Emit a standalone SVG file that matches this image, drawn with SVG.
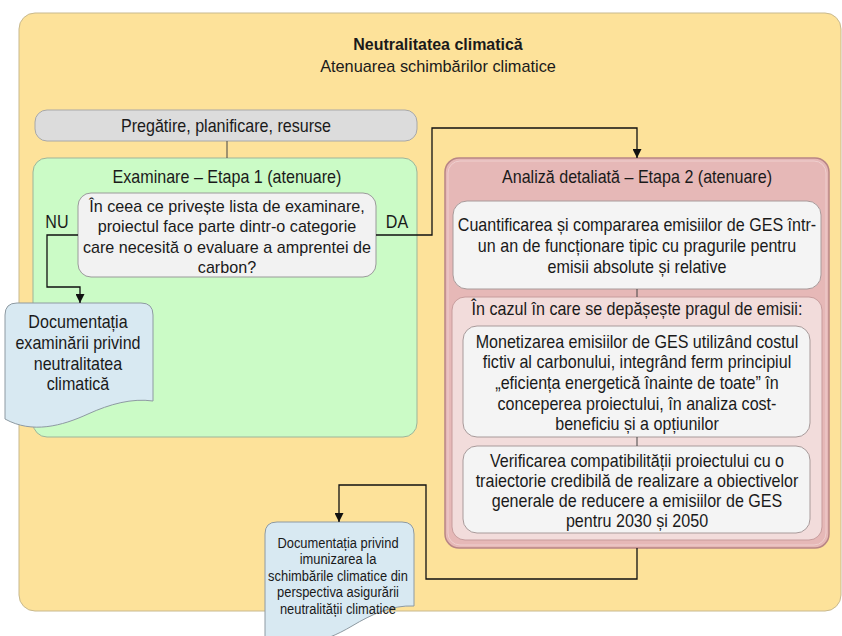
<svg xmlns="http://www.w3.org/2000/svg" width="842" height="636" viewBox="0 0 842 636">
<defs>
<style>
text{font-family:"Liberation Sans",Arial,sans-serif;fill:#1a1a1a;text-anchor:middle}
.tt{font-size:17px}
.tm{font-size:17.5px}
.tq{font-size:17px}
.td{font-size:14.5px}
.b{font-weight:bold}
.conn{fill:none;stroke:#111;stroke-width:1.3}
.sub{fill:none;stroke:#444;stroke-width:1}
.white{fill:#F4F4F4;stroke:#A89A9A;stroke-width:1}
.doc{fill:#D8E9F2;stroke:#8E9AA2;stroke-width:1}
</style>
<marker id="arr" viewBox="0 0 10 10" refX="10" refY="5" markerWidth="9" markerHeight="9" markerUnits="userSpaceOnUse" orient="auto">
<path d="M0,0 L10,5 L0,10 Z" fill="#111"/>
</marker>
</defs>

<g id="frame">
<rect x="19" y="13" width="822" height="598" rx="16" fill="#FDE29A" stroke="#C8B98E" stroke-width="1"/>
<text class="tt b" x="438" y="50" transform="translate(438,0) scale(0.94,1) translate(-438,0)">Neutralitatea climatică</text>
<text class="tt" x="438" y="72" transform="translate(438,0) scale(0.96,1) translate(-438,0)">Atenuarea schimbărilor climatice</text>
</g>

<g id="prep">
<rect x="35" y="110" width="382" height="31" rx="12" fill="#DCDCDC" stroke="#A8A8A8"/>
<text class="tm" x="226" y="132" transform="translate(226,0) scale(0.92,1) translate(-226,0)">Pregătire, planificare, resurse</text>
</g>

<g id="stage1">
<rect x="33" y="158" width="384" height="279" rx="14" fill="#CBFBC6" stroke="#9DB59A"/>
<text class="tm" x="227" y="183" transform="translate(227,0) scale(0.92,1) translate(-227,0)">Examinare – Etapa 1 (atenuare)</text>
</g>

<g id="question">
<rect x="78" y="193" width="298" height="84" rx="13" fill="#F2F2F2" stroke="#9A9A9A"/>
<g transform="translate(227,0) scale(0.95,1) translate(-227,0)">
<text class="tq" x="227" y="212">În ceea ce privește lista de examinare,</text>
<text class="tq" x="227" y="232">proiectul face parte dintr-o categorie</text>
<text class="tq" x="227" y="253">care necesită o evaluare a amprentei de</text>
<text class="tq" x="227" y="273">carbon?</text>
</g>
</g>

<g id="labels">
<text class="tm" x="57" y="228" transform="translate(57,0) scale(0.92,1) translate(-57,0)">NU</text>
<text class="tm" x="397" y="228" transform="translate(397,0) scale(0.92,1) translate(-397,0)">DA</text>
</g>

<g id="doc1">
<path class="doc" d="M17,303 H141 Q153,303 153,315 V401 C132,398 110,404 88,414 C62,426 32,434 5,419 V315 Q5,303 17,303 Z"/>
<g transform="translate(78,0) scale(0.92,1) translate(-78,0)">
<text class="tm" x="78" y="328">Documentația</text>
<text class="tm" x="78" y="349">examinării privind</text>
<text class="tm" x="78" y="370">neutralitatea</text>
<text class="tm" x="78" y="390">climatică</text>
</g>
</g>

<g id="stage2">
<rect x="445" y="158" width="384" height="390" rx="14" fill="#E6B8B7" stroke="#B88585" stroke-width="1.5"/>
<rect x="448" y="161" width="378" height="384" rx="12" fill="none" stroke="#EFCFCE" stroke-width="1"/>
<text class="tm" x="637" y="183" transform="translate(637,0) scale(0.92,1) translate(-637,0)">Analiză detaliată – Etapa 2 (atenuare)</text>
</g>

<g id="quantify">
<rect class="white" x="453" y="201" width="368" height="88" rx="14"/>
<g transform="translate(637,0) scale(0.92,1) translate(-637,0)">
<text class="tm" x="637" y="231">Cuantificarea și compararea emisiilor de GES într-</text>
<text class="tm" x="637" y="252">un an de funcționare tipic cu pragurile pentru</text>
<text class="tm" x="637" y="273">emisii absolute și relative</text>
</g>
</g>

<g id="exceed">
<rect x="452" y="297" width="370" height="243" rx="13" fill="#F2DCDB" stroke="#C79C9C"/>
<text class="tm" x="637" y="315" transform="translate(637,0) scale(0.92,1) translate(-637,0)">În cazul în care se depășește pragul de emisii:</text>
</g>

<g id="monetize">
<rect class="white" x="463" y="326" width="347" height="111" rx="14"/>
<g transform="translate(637,0) scale(0.92,1) translate(-637,0)">
<text class="tm" x="637" y="348">Monetizarea emisiilor de GES utilizând costul</text>
<text class="tm" x="637" y="368">fictiv al carbonului, integrând ferm principiul</text>
<text class="tm" x="637" y="389">„eficiența energetică înainte de toate” în</text>
<text class="tm" x="637" y="410">conceperea proiectului, în analiza cost-</text>
<text class="tm" x="637" y="430">beneficiu și a opțiunilor</text>
</g>
</g>

<g id="verify">
<rect class="white" x="463" y="446" width="347" height="87" rx="14"/>
<g transform="translate(637,0) scale(0.92,1) translate(-637,0)">
<text class="tm" x="637" y="467">Verificarea compatibilității proiectului  cu o</text>
<text class="tm" x="637" y="487">traiectorie credibilă de realizare a obiectivelor</text>
<text class="tm" x="637" y="507">generale de reducere a emisiilor de GES</text>
<text class="tm" x="637" y="527">pentru 2030 și 2050</text>
</g>
</g>

<g id="doc2">
<path class="doc" d="M277,522 H402 Q414,522 414,534 V606 C392,605 372,614 352,626 C322,644 292,650 265,640 V534 Q265,522 277,522 Z"/>
<g transform="translate(338,0) scale(0.89,1) translate(-338,0)">
<text class="td" x="338" y="548">Documentația privind</text>
<text class="td" x="338" y="564.5">imunizarea la</text>
<text class="td" x="338" y="581">schimbările climatice din</text>
<text class="td" x="338" y="597.5">perspectiva asigurării</text>
<text class="td" x="338" y="614">neutralității climatice</text>
</g>
</g>

<g id="connectors">
<path class="sub" d="M227,141 V158"/>
<path class="sub" d="M637,289 V297"/>
<path class="sub" d="M637,437 V446"/>
<path class="conn" d="M78,235 H47 V287 H80 V303" marker-end="url(#arr)"/>
<path class="conn" d="M376,235 H432 V128 H637 V158" marker-end="url(#arr)"/>
<path class="conn" d="M637,548 V579 H426 V485 H339 V522" marker-end="url(#arr)"/>
</g>
</svg>
